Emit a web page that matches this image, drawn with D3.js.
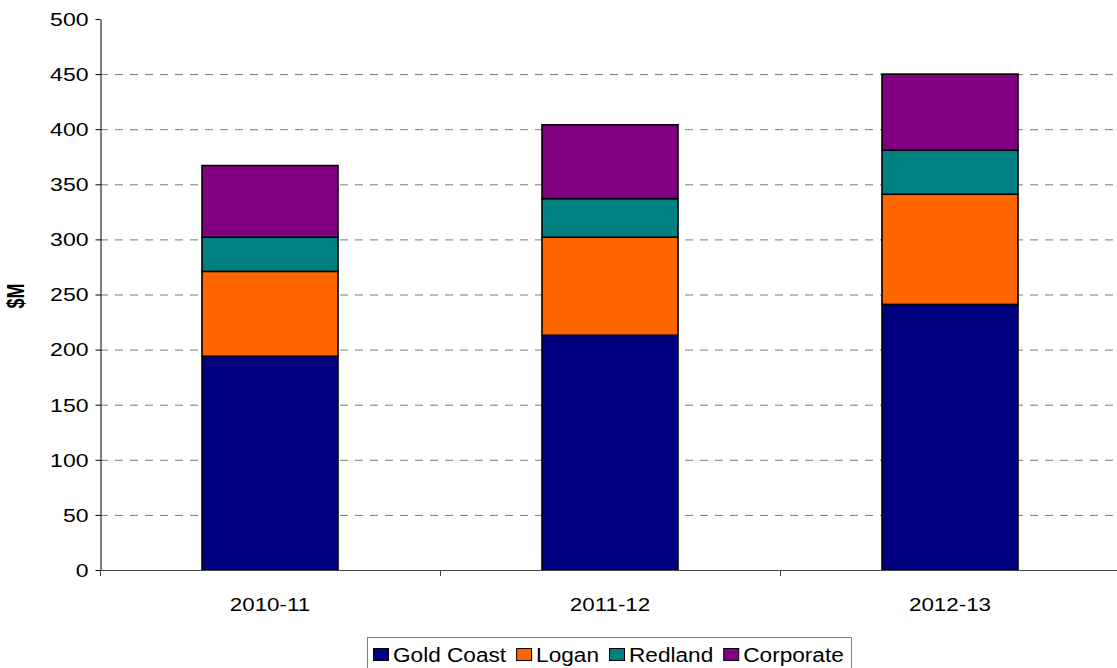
<!DOCTYPE html>
<html>
<head>
<meta charset="utf-8">
<script src="https://cdn.jsdelivr.net/npm/d3@7/dist/d3.min.js"></script>
<style>
  html, body { margin: 0; padding: 0; background: #fff; }
  svg { display: block; font-family: Arial, "Liberation Sans", sans-serif; }
</style>
</head>
<body>
<svg id="chart" width="1117" height="668"></svg>
<script>
// Capital expenditure by region, $M
const years = ["2010-11", "2011-12", "2012-13"];
const goldCoast = [194, 213, 241];
const logan = [77, 89, 100];
const redland = [31, 35, 40];
const corporate = [65, 67, 69];
const seriesNames = ["Gold Coast", "Logan", "Redland", "Corporate"];
const seriesColors = ["#000080", "#FF6600", "#008080", "#800080"];
const yTicks = [0, 50, 100, 150, 200, 250, 300, 350, 400, 450, 500];

(function () {
const svg = d3.select("#chart");
const sx = 1.28; // horizontal text stretch

const plotLeft = 100, plotRight = 1120, plotTop = 19, plotBottom = 570;

const rows = years.map((yr, i) => ({
  year: yr,
  "Gold Coast": goldCoast[i],
  "Logan": logan[i],
  "Redland": redland[i],
  "Corporate": corporate[i]
}));
const stacked = d3.stack().keys(seriesNames)(rows);

const x = d3.scaleBand().domain(years).range([plotLeft, plotRight]).padding(0);
const y = d3.scaleLinear().domain([0, 500]).range([plotBottom, plotTop]);
const barW = x.bandwidth() * 0.4;

// dashed gridlines
svg.append("g")
  .selectAll("line")
  .data(yTicks.filter(t => t > 0 && t < 500))
  .join("line")
  .attr("x1", plotLeft).attr("x2", 1117)
  .attr("y1", d => y(d) + 0.5).attr("y2", d => y(d) + 0.5)
  .attr("stroke", "#7a7a7a")
  .attr("stroke-width", 1)
  .attr("stroke-dasharray", "8,7");

// stacked bars
svg.append("g")
  .selectAll("g")
  .data(stacked)
  .join("g")
  .attr("fill", (d, i) => seriesColors[i])
  .selectAll("rect")
  .data(d => d)
  .join("rect")
  .attr("x", d => x(d.data.year) + (x.bandwidth() - barW) / 2)
  .attr("width", barW)
  .attr("y", d => y(d[1]))
  .attr("height", d => y(d[0]) - y(d[1]))
  .attr("stroke", "#000")
  .attr("stroke-width", 1.6);

// y axis
const yAxis = svg.append("g")
  .attr("transform", `translate(${plotLeft + 0.5},0)`)
  .call(d3.axisLeft(y).tickValues(yTicks).tickSize(5).tickPadding(0).tickSizeOuter(0));
yAxis.select(".domain").attr("stroke", "#000");
yAxis.selectAll(".tick line").attr("stroke", "#000");
yAxis.selectAll(".tick text")
  .attr("font-size", 18)
  .attr("font-family", "Arial, 'Liberation Sans', sans-serif")
  .attr("fill", "#000")
  .attr("x", -12 / sx)
  .attr("dy", "0.35em")
  .attr("transform", `scale(${sx},1)`);

// x axis
const xg = svg.append("g");
xg.append("line")
  .attr("x1", plotLeft).attr("x2", 1117)
  .attr("y1", plotBottom + 0.5).attr("y2", plotBottom + 0.5)
  .attr("stroke", "#444");
const bounds = years.map(d => x(d)).concat([x(years[years.length - 1]) + x.bandwidth()]);
xg.selectAll("line.tk")
  .data(bounds)
  .join("line")
  .attr("class", "tk")
  .attr("x1", d => Math.round(d) + 0.5).attr("x2", d => Math.round(d) + 0.5)
  .attr("y1", plotBottom).attr("y2", plotBottom + 6)
  .attr("stroke", "#444");
xg.selectAll("g.lbl")
  .data(years)
  .join("g")
  .attr("class", "lbl")
  .attr("transform", d => `translate(${x(d) + x.bandwidth() / 2},${plotBottom + 41}) scale(${sx},1)`)
  .append("text")
  .attr("text-anchor", "middle")
  .attr("font-size", 17.5)
  .attr("fill", "#000")
  .text(d => d);

// y axis title
svg.append("g")
  .attr("transform", `translate(24,296) scale(${sx},1) rotate(-90)`)
  .append("text")
  .attr("text-anchor", "middle")
  .attr("font-size", 18)
  .attr("font-weight", "bold")
  .attr("fill", "#000")
  .text("$M");

// legend
const legend = svg.append("g");
legend.append("rect")
  .attr("x", 367.5).attr("y", 637.5)
  .attr("width", 484).attr("height", 40)
  .attr("fill", "#fff")
  .attr("stroke", "#808080");
const lsx = 1.16;
let cx = 373;
seriesNames.forEach((name, i) => {
  legend.append("rect")
    .attr("x", cx + 0.5).attr("y", 648.5)
    .attr("width", 15).attr("height", 12)
    .attr("fill", seriesColors[i])
    .attr("stroke", "#000");
  cx += 20;
  const g = legend.append("g").attr("transform", `translate(${cx},661.5) scale(${lsx},1)`);
  const t = g.append("text")
    .attr("font-size", 19.5)
    .attr("fill", "#000")
    .text(name);
  cx += t.node().getComputedTextLength() * lsx + 10;
});
})();
</script>
</body>
</html>
